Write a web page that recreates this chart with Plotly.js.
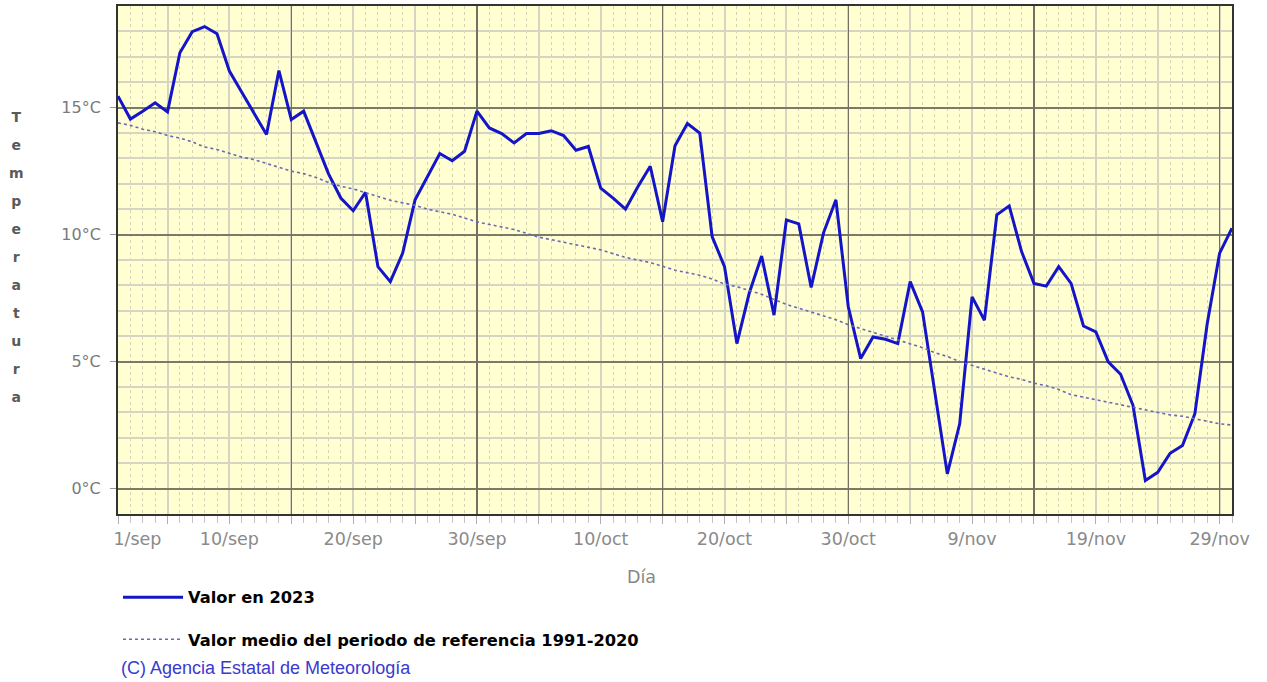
<!DOCTYPE html>
<html>
<head>
<meta charset="utf-8">
<script src="https://cdn.plot.ly/plotly-3.0.1.min.js"></script>
<style>html,body{margin:0;padding:0;background:#fff;}#chart{width:1267px;height:682px;}</style>
</head>
<body>
<div id="chart"></div>
<script>
// Daily mean temperature, 1 Sep - 30 Nov 2023
const valores2023 = [
  15.45, 14.55, 14.86, 15.19, 14.83, 17.16, 17.99, 18.19, 17.91, 16.44,
  15.60, 14.75, 13.94, 16.46, 14.53, 14.86, 13.60, 12.40, 11.44, 10.94,
  11.66, 8.74, 8.15, 9.27, 11.37, 12.29, 13.19, 12.91, 13.28, 14.86,
  14.20, 13.98, 13.61, 13.98, 13.98, 14.09, 13.90, 13.32, 13.47, 11.83,
  11.44, 11.00, 11.88, 12.69, 10.51, 13.50, 14.37, 14.00, 9.92, 8.74,
  5.71, 7.70, 9.16, 6.83, 10.58, 10.42, 7.92, 10.07, 11.37, 7.16,
  5.12, 5.97, 5.88, 5.71, 8.15, 6.96, 3.75, 0.58, 2.55, 7.55,
  6.63, 10.78, 11.13, 9.33, 8.08, 7.97, 8.74, 8.08, 6.40, 6.17,
  4.99, 4.50, 3.28, 0.32, 0.64, 1.39, 1.70, 2.95, 6.50, 9.27,
  10.25
];
// Reference period 1991-2020 mean
const valoresMedios = [
  14.40, 14.30, 14.15, 14.05, 13.90, 13.80, 13.65, 13.45, 13.35, 13.20,
  13.05, 12.95, 12.80, 12.65, 12.50, 12.40, 12.25, 12.05, 11.90, 11.80,
  11.65, 11.50, 11.35, 11.25, 11.15, 11.00, 10.90, 10.80, 10.65, 10.50,
  10.40, 10.30, 10.20, 10.05, 9.90, 9.80, 9.70, 9.60, 9.50, 9.40,
  9.25, 9.10, 9.00, 8.90, 8.75, 8.60, 8.50, 8.40, 8.25, 8.05,
  7.95, 7.80, 7.65, 7.45, 7.25, 7.10, 6.95, 6.80, 6.65, 6.45,
  6.30, 6.15, 6.00, 5.85, 5.70, 5.55, 5.35, 5.20, 5.00, 4.85,
  4.70, 4.55, 4.40, 4.30, 4.15, 4.05, 3.90, 3.70, 3.60, 3.50,
  3.40, 3.30, 3.20, 3.10, 3.00, 2.90, 2.85, 2.75, 2.65, 2.55,
  2.50
];
const dias = valores2023.map((_, i) => i); // day index from 1 Sep
// x tick positions (every 5 days on the light grid) and their labels
const tickDias = [0, 4, 9, 14, 19, 24, 29, 34, 39, 44, 49, 54, 59, 64, 69, 74, 79, 84, 89];
const tickEtiquetas = ['\u00a0\u00a0\u00a0\u00a0\u00a0\u00a0\u00a01/sep', '', '10/sep', '', '20/sep', '', '30/sep', '', '10/oct', '', '20/oct', '', '30/oct', '', '9/nov', '', '19/nov', '', '29/nov'];
const tickTemps = [0, 5, 10, 15];
const tickTempEtiquetas = ['0°C', '5°C', '10°C', '15°C'];

const FONT = 'DejaVu Sans, Verdana, sans-serif';
const XR = [0, 90], YR = [-1, 19];

const data = [
  {
    x: dias, y: valoresMedios, xaxis: 'x2', yaxis: 'y', type: 'scatter', mode: 'lines',
    name: '<b>Valor medio del periodo de referencia 1991-2020</b>',
    line: {color: '#6a6ab4', width: 1.6, dash: 'dot'},
    legendgroup: 'b', legendrank: 2, hoverinfo: 'skip'
  },
  {
    x: dias, y: valores2023, type: 'scatter', mode: 'lines',
    name: '<b>Valor en 2023</b>',
    line: {color: '#1414c8', width: 3},
    legendgroup: 'a', legendrank: 1, hoverinfo: 'skip'
  }
];

const layout = {
  width: 1267, height: 682,
  margin: {l: 118, r: 35, t: 6, b: 168, pad: 0},
  paper_bgcolor: '#ffffff',
  plot_bgcolor: '#ffffd2',
  showlegend: true,
  // main x axis: labels, light grid every 5 days, daily dotted grid (minor)
  xaxis: {
    range: XR, tickmode: 'array', tickvals: tickDias, ticktext: tickEtiquetas,
    showgrid: true, gridcolor: '#d5d5c4', gridwidth: 2, zeroline: false,
    showline: true, mirror: true, linecolor: '#333333', linewidth: 2,
    ticks: 'outside', ticklen: 8, tickcolor: '#b0b0b0',
    tickfont: {family: FONT, size: 17.5, color: '#8a8a8a'},
    minor: {tickmode: 'linear', tick0: 0, dtick: 1, showgrid: true, gridcolor: '#d3d3b2', griddash: 'dot', gridwidth: 1,
            ticks: 'outside', ticklen: 7, tickcolor: '#c4c4c4', tickwidth: 1},
    fixedrange: true
  },
  // overlay x axis: dark grid every 15 days
  xaxis2: {
    overlaying: 'x', anchor: 'y', range: XR, tickmode: 'linear', tick0: 14, dtick: 15,
    showgrid: true, gridcolor: '#727264', gridwidth: 1.5,
    showticklabels: false, ticks: '', zeroline: false, showline: false, fixedrange: true
  },
  // y axis: labels + dark grid every 5, light minor grid every 1
  yaxis: {
    range: YR, tickmode: 'array', tickvals: tickTemps, ticktext: tickTempEtiquetas,
    showgrid: true, gridcolor: '#7a7a68', gridwidth: 2, zeroline: false,
    showline: true, mirror: true, linecolor: '#333333', linewidth: 2,
    ticks: 'outside', ticklen: 6, tickcolor: '#999999', ticklabelstandoff: 6,
    tickfont: {family: FONT, size: 16, color: '#7a7a7a'},
    minor: {tickmode: 'linear', tick0: 0, dtick: 1, showgrid: true, gridcolor: '#d5d5c4', gridwidth: 2, ticks: ''},
    fixedrange: true
  },
  legend: {
    orientation: 'v', x: 0, xanchor: 'left', y: -0.13, yanchor: 'top',
    traceorder: 'grouped', tracegroupgap: 18, itemwidth: 60,
    font: {family: FONT, size: 16.3, color: '#000000'}, bgcolor: 'rgba(0,0,0,0)'
  },
  annotations: [
    {text: 'Día', xref: 'paper', yref: 'paper', x: 0.4695, y: -0.124, xanchor: 'center', yanchor: 'middle',
     showarrow: false, font: {family: FONT, size: 17.5, color: '#888888'}},
    {text: ['T','e','m','p','e','r','a','t','u','r','a'].map(c => '<span style="font-size:14px">' + c + '</span>').join('<br>'),
     xref: 'paper', yref: 'paper', x: -0.0907, y: 0.506, xanchor: 'center', yanchor: 'middle', align: 'center',
     showarrow: false, font: {family: FONT, size: 21.5, color: '#5a5a5a', weight: 'bold'}},
    {text: '(C) Agencia Estatal de Meteorología', xref: 'paper', yref: 'paper', x: 0.001, y: -0.303,
     xanchor: 'left', yanchor: 'middle', showarrow: false,
     font: {family: 'Liberation Sans, Arial, sans-serif', size: 18, color: '#3a3ad0'}}
  ]
};

Plotly.newPlot('chart', data, layout, {staticPlot: true, displayModeBar: false});
</script>
</body>
</html>
